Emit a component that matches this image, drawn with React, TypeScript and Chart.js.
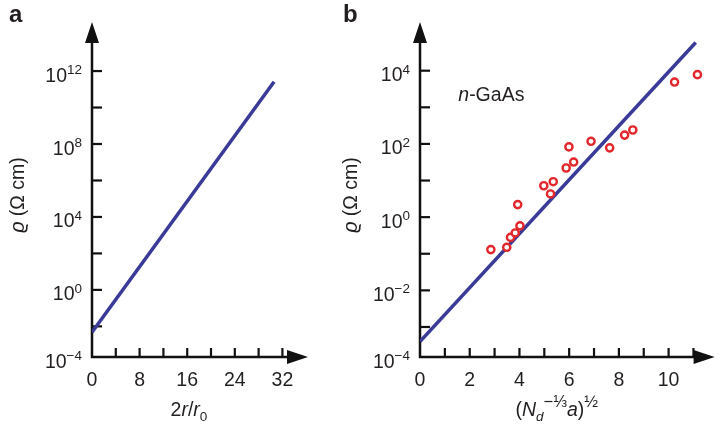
import React, { useEffect, useRef } from 'react';
import { Chart, registerables } from 'chart.js';

Chart.register(...registerables);

// ---------- Panel a data ----------
const LINE_A_X = [0, 30.6];
const LINE_A_RHO = [4.8e-3, 2.6e11];
const X_TICKS_A = [0, 4, 8, 12, 16, 20, 24, 28, 32];
const X_LABELS_A = [0, 8, 16, 24, 32];
const Y_EXP_A = [-4, -2, 0, 2, 4, 6, 8, 10, 12];
const Y_LABEL_EXP_A = [-4, 0, 4, 8, 12];
const X_RANGE_A = [0, 36.3];
const Y_RANGE_A = [10 ** -3.68, 10 ** 14.69];

// ---------- Panel b data ----------
const LINE_B_X = [0, 11.09];
const LINE_B_RHO = [4.0e-4, 5.9e4];
const GAAS_X = [2.85, 3.49, 3.64, 3.83, 4.02, 3.93, 4.98, 5.36, 5.25, 5.88, 6.18, 5.99, 6.88, 7.63, 8.23, 8.56, 10.24, 11.16];
const GAAS_RHO = [0.13, 0.15, 0.28, 0.37, 0.58, 2.2, 7.2, 9.3, 4.3, 22, 32, 83, 118, 78, 174, 240, 4900, 7800];
const X_TICKS_B = [0, 1, 2, 3, 4, 5, 6, 7, 8, 9, 10, 11];
const X_LABELS_B = [0, 2, 4, 6, 8, 10];
const Y_EXP_B = [-4, -3, -2, -1, 0, 1, 2, 3, 4];
const Y_LABEL_EXP_B = [-4, -2, 0, 2, 4];
const X_RANGE_B = [0, 11.85];
const Y_RANGE_B = [10 ** -3.82, 10 ** 5.33];
const NOTE_B = { x: 1.54, rho: 10 ** 3.16 };

const FONT = "'Liberation Sans', Arial, Helvetica, 'DejaVu Sans', sans-serif";
const TEXT = '#231f20';
const AXIS = '#111111';
const LINE_COLOR = '#3a3a98';
const POINT_COLOR = '#e2262b';

type Part = { t: string; size: number; italic?: boolean; bold?: boolean; dy?: number };

const font = (p: Part) => `${p.italic ? 'italic' : 'normal'} ${p.bold ? 'bold' : 'normal'} ${p.size}px ${FONT}`;

function measureParts(ctx: CanvasRenderingContext2D, parts: Part[]) {
  let w = 0;
  for (const p of parts) {
    ctx.font = font(p);
    w += ctx.measureText(p.t).width;
  }
  return w;
}

function drawParts(ctx: CanvasRenderingContext2D, parts: Part[], x: number, y: number) {
  let cx = x;
  ctx.textAlign = 'left';
  ctx.textBaseline = 'alphabetic';
  for (const p of parts) {
    ctx.font = font(p);
    ctx.fillText(p.t, cx, y + (p.dy || 0));
    cx += ctx.measureText(p.t).width;
  }
}

const expStr = (e: number) => (e < 0 ? '\u2212' + Math.abs(e) : String(e));

const Y_TITLE: Part[] = [
  { t: '\u03F1', size: 19.5, italic: true },
  { t: ' (\u03A9 cm)', size: 19.5 },
];

type Cfg = {
  id: string;
  letter: string;
  letterX: number;
  yTitleX: number;
  xTicks: number[];
  xLabels: number[];
  yExps: number[];
  yLabelExps: number[];
  xTitle: Part[];
  xTitleCenter: number;
  note?: { x: number; rho: number; parts: Part[] };
};

function makePlugin(cfg: Cfg) {
  return {
    id: cfg.id,
    beforeDatasetsDraw(chart: any) {
      const { ctx, chartArea } = chart;
      const { left, right, top, bottom } = chartArea;
      const xs = chart.scales.x;
      const ys = chart.scales.y;
      ctx.save();
      ctx.strokeStyle = AXIS;
      ctx.fillStyle = AXIS;
      ctx.lineWidth = 2.5;
      ctx.lineJoin = 'miter';
      ctx.beginPath();
      ctx.moveTo(left, top + 18);
      ctx.lineTo(left, bottom);
      ctx.lineTo(right - 18, bottom);
      ctx.stroke();
      // arrowheads
      ctx.beginPath();
      ctx.moveTo(left, top);
      ctx.lineTo(left - 7, top + 21);
      ctx.lineTo(left + 7, top + 21);
      ctx.closePath();
      ctx.fill();
      ctx.beginPath();
      ctx.moveTo(right, bottom);
      ctx.lineTo(right - 21, bottom - 7);
      ctx.lineTo(right - 21, bottom + 7);
      ctx.closePath();
      ctx.fill();
      // tick marks (inward)
      ctx.lineWidth = 2.2;
      for (const v of cfg.xTicks) {
        const px = xs.getPixelForValue(v);
        if (px <= left + 1) continue;
        ctx.beginPath();
        ctx.moveTo(px, bottom);
        ctx.lineTo(px, bottom - 9);
        ctx.stroke();
      }
      for (const e of cfg.yExps) {
        const py = ys.getPixelForValue(10 ** e);
        if (py >= bottom - 1) continue;
        ctx.beginPath();
        ctx.moveTo(left, py);
        ctx.lineTo(left + 10, py);
        ctx.stroke();
      }
      ctx.restore();
    },
    afterDraw(chart: any) {
      const { ctx, chartArea } = chart;
      const { left, bottom } = chartArea;
      const xs = chart.scales.x;
      const ys = chart.scales.y;
      ctx.save();
      ctx.fillStyle = TEXT;
      // x tick labels
      ctx.font = `19.5px ${FONT}`;
      ctx.textAlign = 'center';
      ctx.textBaseline = 'alphabetic';
      for (const v of cfg.xLabels) {
        ctx.fillText(String(v), xs.getPixelForValue(v), bottom + 29);
      }
      // y tick labels 10^n
      for (const e of cfg.yLabelExps) {
        const py = Math.min(ys.getPixelForValue(10 ** e), bottom);
        const sup = expStr(e);
        ctx.font = `13.5px ${FONT}`;
        const sw = ctx.measureText(sup).width;
        ctx.font = `19.5px ${FONT}`;
        const tw = ctx.measureText('10').width;
        const xr = left - 10;
        ctx.textAlign = 'left';
        ctx.font = `19.5px ${FONT}`;
        ctx.fillText('10', xr - sw - tw, py + 10.5);
        ctx.font = `13.5px ${FONT}`;
        ctx.fillText(sup, xr - sw, py + 3);
      }
      // x title
      const w = measureParts(ctx, cfg.xTitle);
      drawParts(ctx, cfg.xTitle, xs.getPixelForValue(cfg.xTitleCenter) - w / 2, bottom + 59);
      // y title (rotated)
      ctx.save();
      ctx.translate(cfg.yTitleX, 195);
      ctx.rotate(-Math.PI / 2);
      const yw = measureParts(ctx, Y_TITLE);
      drawParts(ctx, Y_TITLE, -yw / 2, 0);
      ctx.restore();
      // panel letter
      ctx.font = `bold 24px ${FONT}`;
      ctx.textAlign = 'left';
      ctx.fillText(cfg.letter, cfg.letterX, 22);
      // note
      if (cfg.note) {
        drawParts(ctx, cfg.note.parts, xs.getPixelForValue(cfg.note.x), ys.getPixelForValue(cfg.note.rho));
      }
      ctx.restore();
    },
  };
}

function PanelChart(props: {
  width: number;
  height: number;
  left: number;
  padding: { left: number; right: number; top: number; bottom: number };
  datasets: any[];
  xRange: number[];
  yRange: number[];
  cfg: Cfg;
}) {
  const ref = useRef<HTMLCanvasElement | null>(null);
  useEffect(() => {
    if (!ref.current) return;
    const chart = new Chart(ref.current, {
      type: 'scatter',
      data: { datasets: props.datasets },
      options: {
        animation: false,
        responsive: false,
        devicePixelRatio: 1,
        layout: { padding: props.padding },
        plugins: { legend: { display: false }, tooltip: { enabled: false } },
        events: [],
        scales: {
          x: { type: 'linear', min: props.xRange[0], max: props.xRange[1], display: false },
          y: { type: 'logarithmic', min: props.yRange[0], max: props.yRange[1], display: false },
        },
      } as any,
      plugins: [makePlugin(props.cfg) as any],
    });
    return () => chart.destroy();
  }, []);
  return (
    <canvas
      ref={ref}
      width={props.width}
      height={props.height}
      style={{ position: 'absolute', left: props.left, top: 0, width: props.width, height: props.height }}
    />
  );
}

export default function App() {
  const dsA = [
    {
      data: LINE_A_X.map((x, i) => ({ x, y: LINE_A_RHO[i] })),
      showLine: true,
      borderColor: LINE_COLOR,
      borderWidth: 3.5,
      pointRadius: 0,
      fill: false,
    },
  ];
  const dsB = [
    {
      data: GAAS_X.map((x, i) => ({ x, y: GAAS_RHO[i] })),
      showLine: false,
      pointRadius: 3.6,
      pointBorderWidth: 2.4,
      pointBorderColor: POINT_COLOR,
      pointBackgroundColor: '#ffffff',
    },
    {
      data: LINE_B_X.map((x, i) => ({ x, y: LINE_B_RHO[i] })),
      showLine: true,
      borderColor: LINE_COLOR,
      borderWidth: 3.5,
      pointRadius: 0,
      fill: false,
    },
  ];
  const cfgA: Cfg = {
    id: 'panelA',
    letter: 'a',
    letterX: 9,
    yTitleX: 23.5,
    xTicks: X_TICKS_A,
    xLabels: X_LABELS_A,
    yExps: Y_EXP_A,
    yLabelExps: Y_LABEL_EXP_A,
    xTitle: [
      { t: '2', size: 19.5 },
      { t: 'r', size: 19.5, italic: true },
      { t: '/', size: 19.5 },
      { t: 'r', size: 19.5, italic: true },
      { t: '0', size: 13.5, dy: 5 },
    ],
    xTitleCenter: 16.3,
  };
  const cfgB: Cfg = {
    id: 'panelB',
    letter: 'b',
    letterX: 13,
    yTitleX: 27,
    xTicks: X_TICKS_B,
    xLabels: X_LABELS_B,
    yExps: Y_EXP_B,
    yLabelExps: Y_LABEL_EXP_B,
    xTitle: [
      { t: '(', size: 19.5 },
      { t: 'N', size: 19.5, italic: true },
      { t: 'd', size: 13.5, italic: true, dy: 5 },
      { t: '\u2212\u2153', size: 16.5, dy: -9 },
      { t: 'a', size: 19.5, italic: true },
      { t: ')', size: 19.5 },
      { t: '\u00BD', size: 16.5, dy: -9 },
    ],
    xTitleCenter: 5.5,
    note: {
      x: NOTE_B.x,
      rho: NOTE_B.rho,
      parts: [
        { t: 'n', size: 19.5, italic: true },
        { t: '-GaAs', size: 19.5 },
      ],
    },
  };
  return (
    <div style={{ position: 'absolute', left: 0, top: 0, width: 721, height: 427, background: '#ffffff', overflow: 'hidden' }}>
      <PanelChart
        width={360}
        height={427}
        left={0}
        padding={{ left: 92, right: 52, top: 22, bottom: 70 }}
        datasets={dsA}
        xRange={X_RANGE_A}
        yRange={Y_RANGE_A}
        cfg={cfgA}
      />
      <PanelChart
        width={391}
        height={427}
        left={330}
        padding={{ left: 90, right: 0, top: 22, bottom: 70 }}
        datasets={dsB}
        xRange={X_RANGE_B}
        yRange={Y_RANGE_B}
        cfg={cfgB}
      />
    </div>
  );
}
